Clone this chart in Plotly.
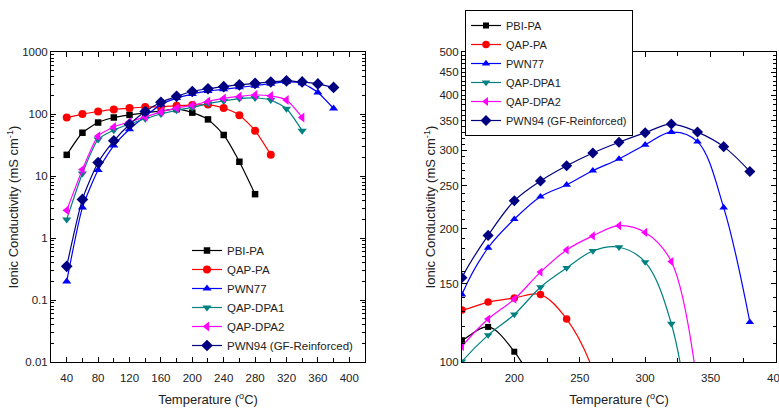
import plotly.graph_objects as go

# ---------------- data ----------------
temps = [40, 60, 80, 100, 120, 140, 160, 180, 200, 220, 240, 260, 280, 300, 320, 340, 360, 380]

pbi_pa   = [22, 50, 73, 88, 97, 105, 112, 120, 105.5, 82, 46, 17, 5.1]
qap_pa   = [88, 100, 110, 119, 125, 130, 131, 136.5, 139.5, 142, 125, 96, 54, 22]
pwn77    = [0.2, 3.1, 12.5, 31, 57, 92, 142, 181, 210, 236, 251, 270, 287, 309, 330, 314, 223, 123]
qap_dpa1 = [2.0, 11, 39, 55, 69, 84, 100.3, 115, 128, 147.5, 163, 178, 181.5, 168, 122, 54]
qap_dpa2 = [2.8, 12.7, 44, 62, 75, 90, 108.4, 125, 138.6, 159.5, 179, 192.5, 203, 196, 168.5, 88]
pwn94    = [0.35, 4.2, 16.5, 37, 68, 110, 155, 193, 231, 256, 277, 296, 313, 329, 344, 330, 306, 269]

names   = ["PBI-PA", "QAP-PA", "PWN77", "QAP-DPA1", "QAP-DPA2", "PWN94 (GF-Reinforced)"]
series  = [pbi_pa, qap_pa, pwn77, qap_dpa1, qap_dpa2, pwn94]
colors  = ["#000000", "#FF0000", "#0000FF", "#008080", "#FF00FF", "#000080"]
symbols = ["square", "circle", "triangle-up", "triangle-down", "triangle-left", "diamond"]
sizes   = [6.5, 8, 8, 8, 8.5, 9]

left_xticks = [40, 80, 120, 160, 200, 240, 280, 320, 360, 400]
left_yticks = [0.01, 0.1, 1, 10, 100, 1000]
left_yticktext = ["0.01", "0.1", "1", "10", "100", "1000"]
right_xticks = [200, 250, 300, 350, 400]
right_yticks = [100, 150, 200, 250, 300, 350, 400, 450, 500]

FONT = "Liberation Sans, Arial, sans-serif"

fig = go.Figure()

for name, ys, c, s, sz in zip(names, series, colors, symbols, sizes):
    xs = temps[:len(ys)]
    fig.add_trace(go.Scatter(
        x=xs, y=ys, name=name, mode="lines+markers",
        line=dict(color=c, width=1.2, shape="spline", smoothing=0.6),
        marker=dict(symbol=s, size=sz, color=c),
        xaxis="x", yaxis="y", legend="legend"))

for name, ys, c, s, sz in zip(names, series, colors, symbols, sizes):
    xs = temps[:len(ys)]
    fig.add_trace(go.Scatter(
        x=xs, y=ys, name=name, mode="lines+markers",
        line=dict(color=c, width=1.2, shape="spline", smoothing=1.0),
        marker=dict(symbol=s, size=sz - 0.5, color=c),
        xaxis="x2", yaxis="y2", legend="legend2"))

left_minor_y = [m * 10 ** e for e in range(-2, 3) for m in range(2, 10)]
right_minor_y = [v for v in range(110, 500, 10) if v % 50 != 0]

tick_font = dict(family=FONT, size=11.5, color="#222")
axis_common = dict(showline=True, linecolor="#000", linewidth=1, mirror="ticks",
                   ticks="inside", ticklen=5, tickcolor="#000", showgrid=False,
                   zeroline=False, tickfont=tick_font, automargin=False)

xtitle_font = dict(family=FONT, size=13, color="#222")
ytitle_font = dict(family=FONT, size=13, color="#222")

fig.update_layout(
    width=779, height=410,
    margin=dict(l=0, r=0, t=0, b=0),
    paper_bgcolor="white", plot_bgcolor="white",
    xaxis=dict(domain=[0.0655, 0.4685], range=[20, 420], tickvals=left_xticks,
               ticklabelstandoff=5,
               minor=dict(tickvals=[60, 100, 140, 180, 220, 260, 300, 340, 380],
                          ticks="inside", ticklen=4, tickcolor="#000"),
               title=dict(text="Temperature (<sup>o</sup>C)", standoff=12, font=xtitle_font),
               anchor="y", **axis_common),
    yaxis=dict(domain=[0.117, 0.873], type="log", range=[-2, 3],
               tickvals=left_yticks, ticktext=left_yticktext,
               minor=dict(tickvals=left_minor_y, ticks="inside", ticklen=3, tickcolor="#000"),
               title=dict(text="Ionic Conductivity (mS cm<sup>-1</sup>)", standoff=0,
                          font=ytitle_font),
               anchor="x", **axis_common),
    xaxis2=dict(domain=[0.593, 0.9962], range=[160, 400], tickvals=right_xticks,
                ticklabelstandoff=5,
                minor=dict(tickvals=[175, 225, 275, 325, 375], ticks="inside",
                           ticklen=4, tickcolor="#000"),
                title=dict(text="Temperature (<sup>o</sup>C)", standoff=12, font=xtitle_font),
                anchor="y2", **axis_common),
    yaxis2=dict(domain=[0.117, 0.873], type="log", range=[2, 2.69897],
                tickvals=right_yticks,
                minor=dict(tickvals=right_minor_y, ticks="inside", ticklen=3, tickcolor="#000"),
                title=dict(text="Ionic Conductivity (mS cm<sup>-1</sup>)", standoff=0,
                           font=ytitle_font),
                anchor="x2", **axis_common),
    legend=dict(x=187 / 779, y=1 - 236 / 410, xanchor="left", yanchor="top",
                bgcolor="rgba(0,0,0,0)", borderwidth=0,
                font=dict(family=FONT, size=11.5, color="#222")),
    legend2=dict(x=465 / 779, y=1 - 10 / 410, xanchor="left", yanchor="top",
                 bgcolor="white", bordercolor="#000", borderwidth=1,
                 font=dict(family=FONT, size=11, color="#222")),
    annotations=[dict(text="400", x=400, xref="x2", y=1 - 378 / 410, yref="paper",
                      showarrow=False, xanchor="center", yanchor="middle", font=tick_font)],
)

fig.write_html("out.html")
